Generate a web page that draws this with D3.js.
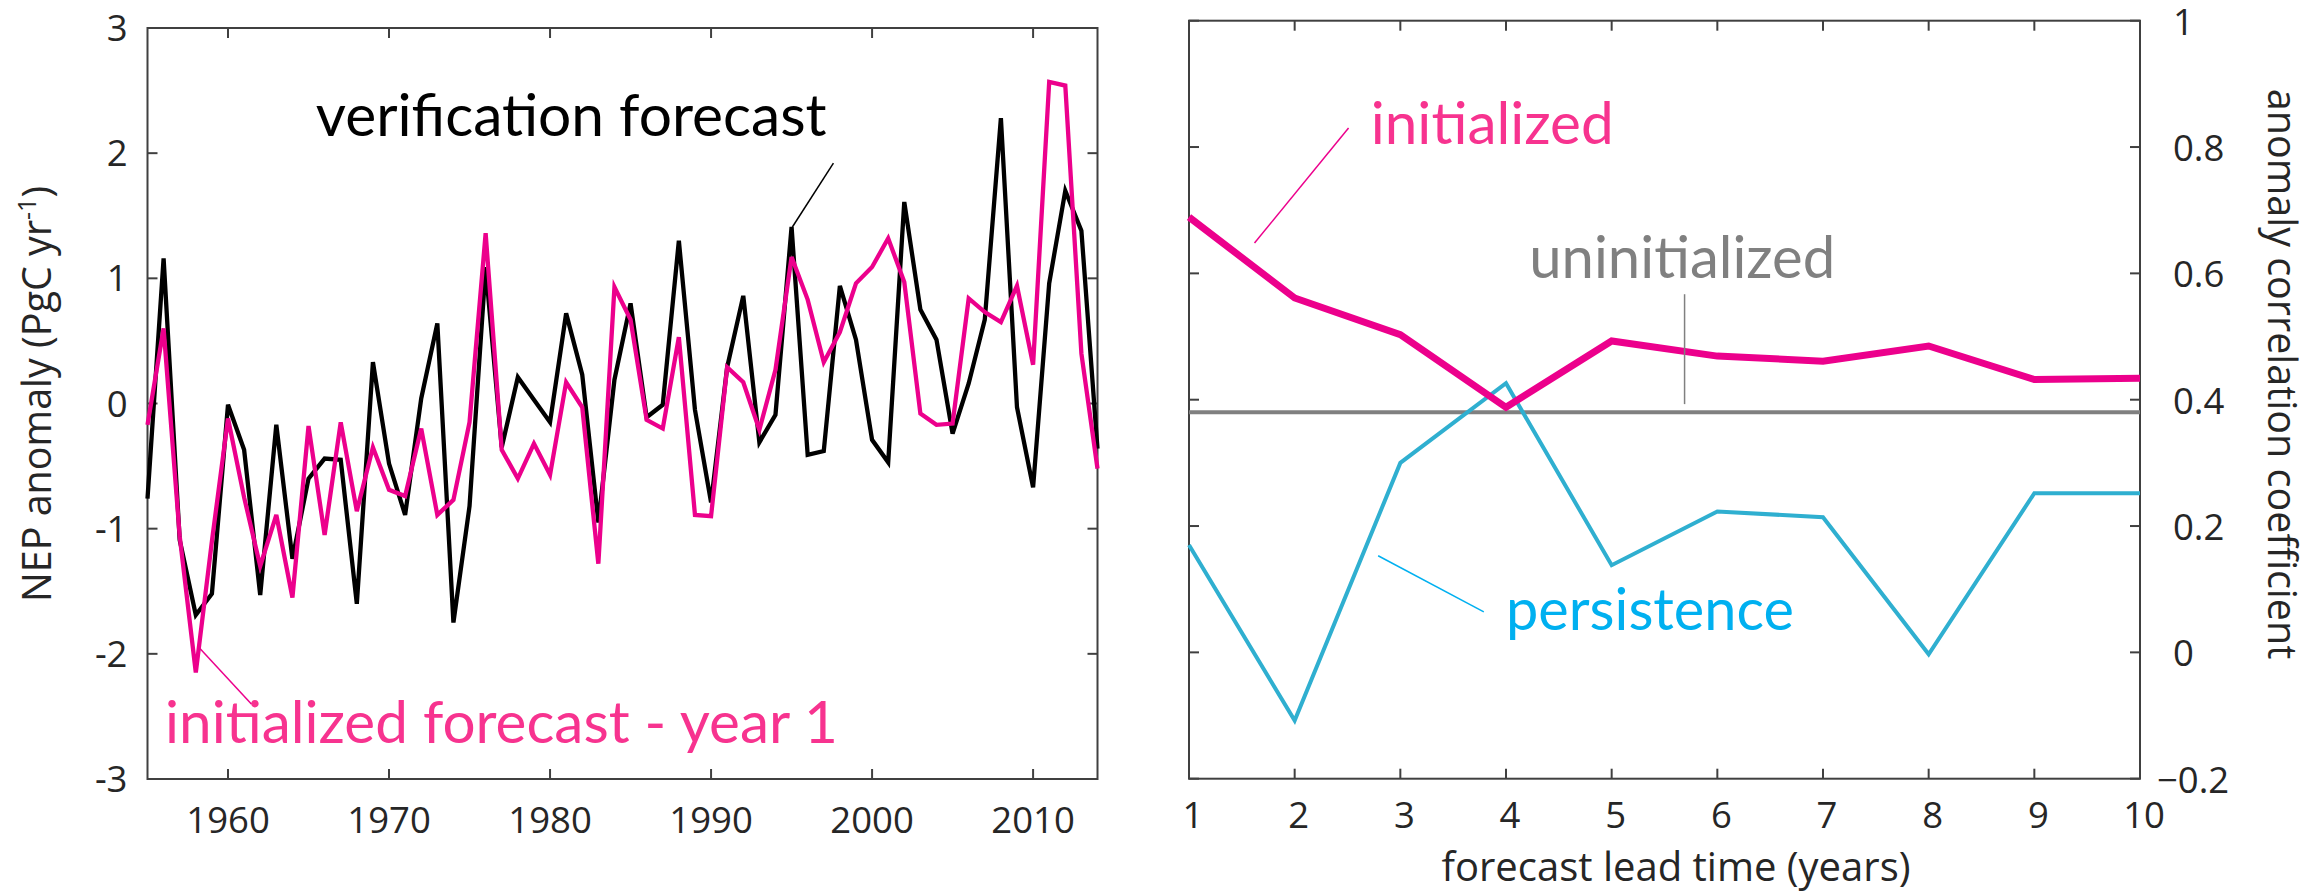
<!DOCTYPE html>
<html><head><meta charset="utf-8">
<script src="https://cdn.jsdelivr.net/npm/d3@7"></script>
<style>body{margin:0;background:#fff}</style>
</head><body>
<svg id="c" width="2313" height="895"></svg>
<script>
// ---------- data ----------
const years = d3.range(1955, 2015);
const verificationForecast = [-0.76,1.16,-1.09,-1.69,-1.52,-0.01,-0.37,-1.53,-0.17,-1.24,
  -0.60,-0.44,-0.45,-1.60,0.33,-0.48,-0.89,0.04,0.64,-1.75,
  -0.82,1.09,-0.35,0.21,0.03,-0.15,0.72,0.23,-0.95,0.19,
  0.80,-0.11,-0.01,1.30,-0.05,-0.79,0.29,0.86,-0.31,-0.09,
  1.41,-0.41,-0.38,0.94,0.51,-0.29,-0.47,1.61,0.75,0.51,
  -0.24,0.16,0.67,2.28,-0.03,-0.67,0.96,1.70,1.38,-0.36];
const initializedYear1 = [-0.17,0.60,-1.06,-2.15,-1.10,-0.12,-0.75,-1.30,-0.89,-1.55,
  -0.18,-1.05,-0.15,-0.86,-0.35,-0.69,-0.74,-0.20,-0.89,-0.77,
  -0.15,1.36,-0.37,-0.60,-0.32,-0.57,0.17,-0.03,-1.28,0.93,
  0.67,-0.13,-0.20,0.53,-0.89,-0.90,0.29,0.17,-0.21,0.27,
  1.17,0.83,0.33,0.57,0.96,1.09,1.32,0.97,-0.08,-0.17,
  -0.16,0.84,0.73,0.65,0.94,0.31,2.57,2.54,0.40,-0.52];
const leadTimes = [1,2,3,4,5,6,7,8,9,10];
const initializedACC = [0.689,0.561,0.503,0.388,0.493,0.469,0.461,0.485,0.432,0.434];
const uninitializedACC = [0.38,0.38,0.38,0.38,0.38,0.38,0.38,0.38,0.38,0.38];
const persistenceACC = [0.170,-0.108,0.300,0.426,0.138,0.223,0.214,-0.003,0.252,0.252];
const leftXTicks = [1960,1970,1980,1990,2000,2010];
const leftYTicks = [-3,-2,-1,0,1,2,3];
const rightXTicks = [1,2,3,4,5,6,7,8,9,10];
const rightYTicks = [-0.2,0,0.2,0.4,0.6,0.8,1];

// ---------- style ----------
const PINK = "#EC008C", PINK_TXT = "#F7338F", CYAN = "#2FAFD0", CYAN_TXT = "#00B0F0",
      GRAY = "#808080", AXIS = "#404040", TICKTXT = "#262626";
const TICKFONT = "'Open Sans', 'Noto Sans', sans-serif";
const ANNFONT = "Lato, 'Open Sans', sans-serif";
const TICKSIZE = 36.5, LABELSIZE = 39.5;

const svg = d3.select("#c");

// ---------- left panel ----------
const L = {x0:147.5, x1:1097.5, y0:28, y1:779};
const xL = d3.scaleLinear().domain([1955,2014]).range([L.x0,L.x1]);
const yL = d3.scaleLinear().domain([-3,3]).range([L.y1,L.y0]);

// ---------- right panel ----------
const R = {x0:1189, x1:2140, y0:20.7, y1:778.7};
const xR = d3.scaleLinear().domain([1,10]).range([R.x0,R.x1]);
const yR = d3.scaleLinear().domain([-0.2,1]).range([R.y1,R.y0]);

function box(P, xs, ys, xt, yt){
  const g = svg.append("g");
  const tl = 10;
  xt.forEach(t=>{
    const x = xs(t);
    g.append("line").attr("x1",x).attr("x2",x).attr("y1",P.y1).attr("y2",P.y1-tl);
    g.append("line").attr("x1",x).attr("x2",x).attr("y1",P.y0).attr("y2",P.y0+tl);
  });
  yt.forEach(t=>{
    const y = ys(t);
    g.append("line").attr("x1",P.x0).attr("x2",P.x0+tl).attr("y1",y).attr("y2",y);
    g.append("line").attr("x1",P.x1).attr("x2",P.x1-tl).attr("y1",y).attr("y2",y);
  });
  g.append("rect").attr("x",P.x0).attr("y",P.y0).attr("width",P.x1-P.x0).attr("height",P.y1-P.y0)
    .attr("fill","none");
  g.selectAll("line,rect").attr("stroke",AXIS).attr("stroke-width",2);
  return g;
}

// left axes
box(L, xL, yL, leftXTicks, leftYTicks);
svg.append("g").selectAll("text").data(leftYTicks).join("text")
  .attr("x", L.x0-20).attr("y", d=>yL(d)).attr("dy","0.36em")
  .attr("text-anchor","end").attr("font-family",TICKFONT).attr("font-size",TICKSIZE)
  .attr("fill",TICKTXT).text(d=>d);
svg.append("g").selectAll("text").data(leftXTicks).join("text")
  .attr("x", d=>xL(d)).attr("y", 833)
  .attr("text-anchor","middle").attr("font-family",TICKFONT).attr("font-size",TICKSIZE)
  .attr("fill",TICKTXT).text(d=>d);
const ylab = svg.append("text").attr("transform","translate(51,394) rotate(-90)")
  .attr("text-anchor","middle").attr("font-family",TICKFONT).attr("font-size",LABELSIZE)
  .attr("fill",TICKTXT);
ylab.append("tspan").text("NEP anomaly (PgC yr");
ylab.append("tspan").attr("font-size",25).attr("dy",-15).text("-1");
ylab.append("tspan").attr("dy",15).text(")");

// left lines
const lineL = d3.line().x((d,i)=>xL(years[i])).y(d=>yL(d));
svg.append("path").attr("d", lineL(verificationForecast)).attr("fill","none")
  .attr("stroke","#000").attr("stroke-width",4.3);
svg.append("path").attr("d", lineL(initializedYear1)).attr("fill","none")
  .attr("stroke",PINK).attr("stroke-width",4.3);

// right axes
box(R, xR, yR, rightXTicks, rightYTicks);
svg.append("g").selectAll("text").data(rightYTicks).join("text")
  .attr("x", d=> d<0 ? 2157 : 2173).attr("y", d=>yR(d)).attr("dy","0.38em")
  .attr("text-anchor","start").attr("font-family",TICKFONT).attr("font-size",TICKSIZE)
  .attr("fill",TICKTXT).text(d=>d3.format("")(+d.toFixed(1)));
svg.append("g").selectAll("text").data(rightXTicks).join("text")
  .attr("x", d=>xR(d)+4).attr("y", 828)
  .attr("text-anchor","middle").attr("font-family",TICKFONT).attr("font-size",TICKSIZE)
  .attr("fill",TICKTXT).text(d=>d);
svg.append("text").attr("x",1676).attr("y",881).attr("text-anchor","middle")
  .attr("font-family",TICKFONT).attr("font-size",LABELSIZE+0.5).attr("fill",TICKTXT)
  .text("forecast lead time (years)");
svg.append("text").attr("transform","translate(2268,374) rotate(90)")
  .attr("text-anchor","middle").attr("font-family",TICKFONT).attr("font-size",LABELSIZE)
  .attr("fill",TICKTXT).text("anomaly correlation coefficient");

// right lines
const lineR = d3.line().x((d,i)=>xR(leadTimes[i])).y(d=>yR(d));
svg.append("path").attr("d", lineR(uninitializedACC)).attr("fill","none")
  .attr("stroke",GRAY).attr("stroke-width",4);
svg.append("path").attr("d", lineR(persistenceACC)).attr("fill","none")
  .attr("stroke",CYAN).attr("stroke-width",4);
svg.append("path").attr("d", lineR(initializedACC)).attr("fill","none")
  .attr("stroke",PINK).attr("stroke-width",7);

// ---------- annotations ----------
function label(txt, x, y, width, color){
  const t = svg.append("text").attr("x",x).attr("y",y).attr("font-family",ANNFONT)
    .attr("font-size",50).attr("fill",color).text(txt);
  const w = t.node().getComputedTextLength();
  t.attr("font-size", 50*width/w);
}
function pointer(x1,y1,x2,y2,color,w){
  svg.append("line").attr("x1",x1).attr("y1",y1).attr("x2",x2).attr("y2",y2)
    .attr("stroke",color).attr("stroke-width",w);
}
label("verification forecast", xL(1965.45), yL(2.14), 511, "#000");
pointer(xL(1997.6), yL(1.92), xL(1995.05), yL(1.41), "#000", 1.5);
label("initialized forecast - year 1", xL(1956.09), yL(-2.71), 673, PINK_TXT);
pointer(xL(1958.2), yL(-1.95), xL(1961.45), yL(-2.40), PINK, 1.5);

label("initialized", xR(2.72), yR(0.805), 243, PINK_TXT);
pointer(xR(2.51), yR(0.830), xR(1.62), yR(0.648), PINK, 1.5);
label("uninitialized", xR(4.22), yR(0.593), 306, GRAY);
pointer(xR(5.69), yR(0.567), xR(5.69), yR(0.393), GRAY, 1.5);
label("persistence", xR(4.0), yR(0.035), 288, CYAN_TXT);
pointer(xR(2.79), yR(0.153), xR(3.79), yR(0.064), CYAN_TXT, 1.5);
</script>
</body></html>
